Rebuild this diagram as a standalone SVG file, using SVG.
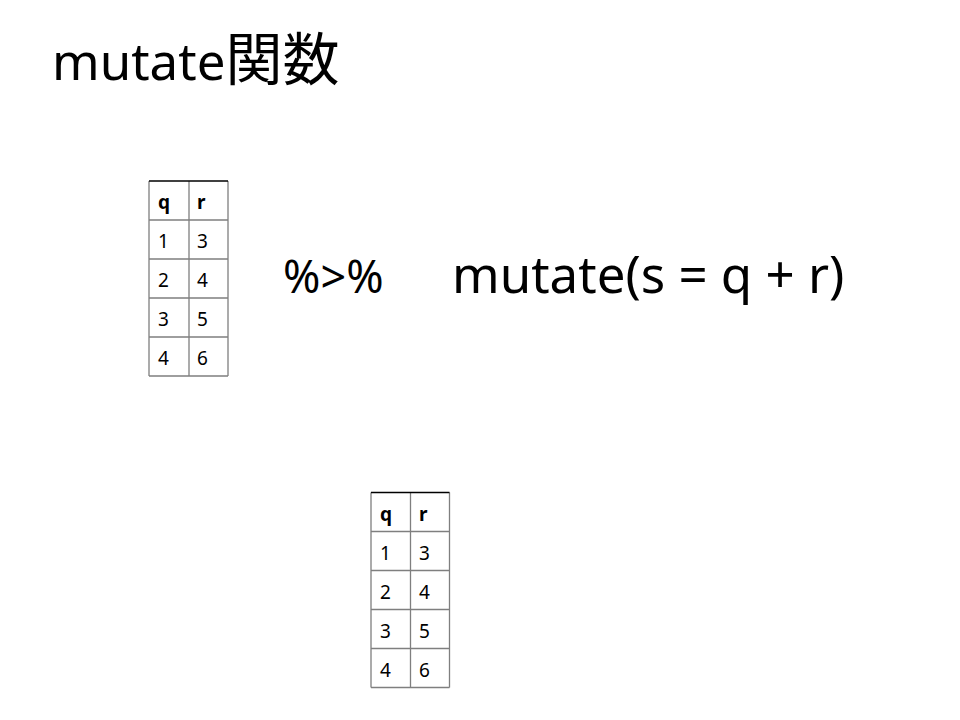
<svg xmlns="http://www.w3.org/2000/svg" width="960" height="720" viewBox="0 0 960 720">
<style>
.title{font-family:"Noto Sans","Noto Sans CJK JP",sans-serif;font-size:51px;fill:#000}
.cjk{font-family:"Noto Sans CJK JP",sans-serif;font-size:57px}
.big{font-family:"Noto Sans",sans-serif;font-size:51px;fill:#000}
.cell{font-family:"Noto Sans",sans-serif;font-size:19px;fill:#000}
.hd{font-weight:bold}
.grid{stroke:#7f7f7f;stroke-width:1.3;fill:none}
.top{stroke:#000;stroke-width:1.3}
</style>
<rect width="960" height="720" fill="#fff"/>
<g id="title"><text class="title" x="52" y="80">mutate<tspan class="cjk">関数</tspan></text></g>
<g id="table1">
<path class="grid" d="M149,181V376M189,181V376M228,181V376M149,220H228M149,259H228M149,298H228M149,337H228M149,376H228"/>
<line class="top" x1="149" y1="181" x2="228" y2="181"/>
<text class="cell hd" x="158" y="209">q</text><text class="cell hd" x="197" y="209">r</text>
<text class="cell" x="158" y="248">1</text><text class="cell" x="197" y="248">3</text>
<text class="cell" x="158" y="287">2</text><text class="cell" x="197" y="287">4</text>
<text class="cell" x="158" y="326">3</text><text class="cell" x="197" y="326">5</text>
<text class="cell" x="158" y="365">4</text><text class="cell" x="197" y="365">6</text>
</g>
<g id="pipe"><text class="big" x="283" y="293" style="font-size:45px">%&gt;%</text></g>
<g id="mutate"><text class="big" x="452" y="293">mutate(s = q + r)</text></g>
<g id="table2">
<path class="grid" d="M371,492.5V687.5M410.5,492.5V687.5M449.5,492.5V687.5M371,531.5H449.5M371,570.5H449.5M371,609.5H449.5M371,648.5H449.5M371,687.5H449.5"/>
<line class="top" x1="371" y1="492.5" x2="449.5" y2="492.5"/>
<text class="cell hd" x="380" y="521">q</text><text class="cell hd" x="419" y="521">r</text>
<text class="cell" x="380" y="560">1</text><text class="cell" x="419" y="560">3</text>
<text class="cell" x="380" y="599">2</text><text class="cell" x="419" y="599">4</text>
<text class="cell" x="380" y="638">3</text><text class="cell" x="419" y="638">5</text>
<text class="cell" x="380" y="677">4</text><text class="cell" x="419" y="677">6</text>
</g>
<g id="connectors"></g>
</svg>
